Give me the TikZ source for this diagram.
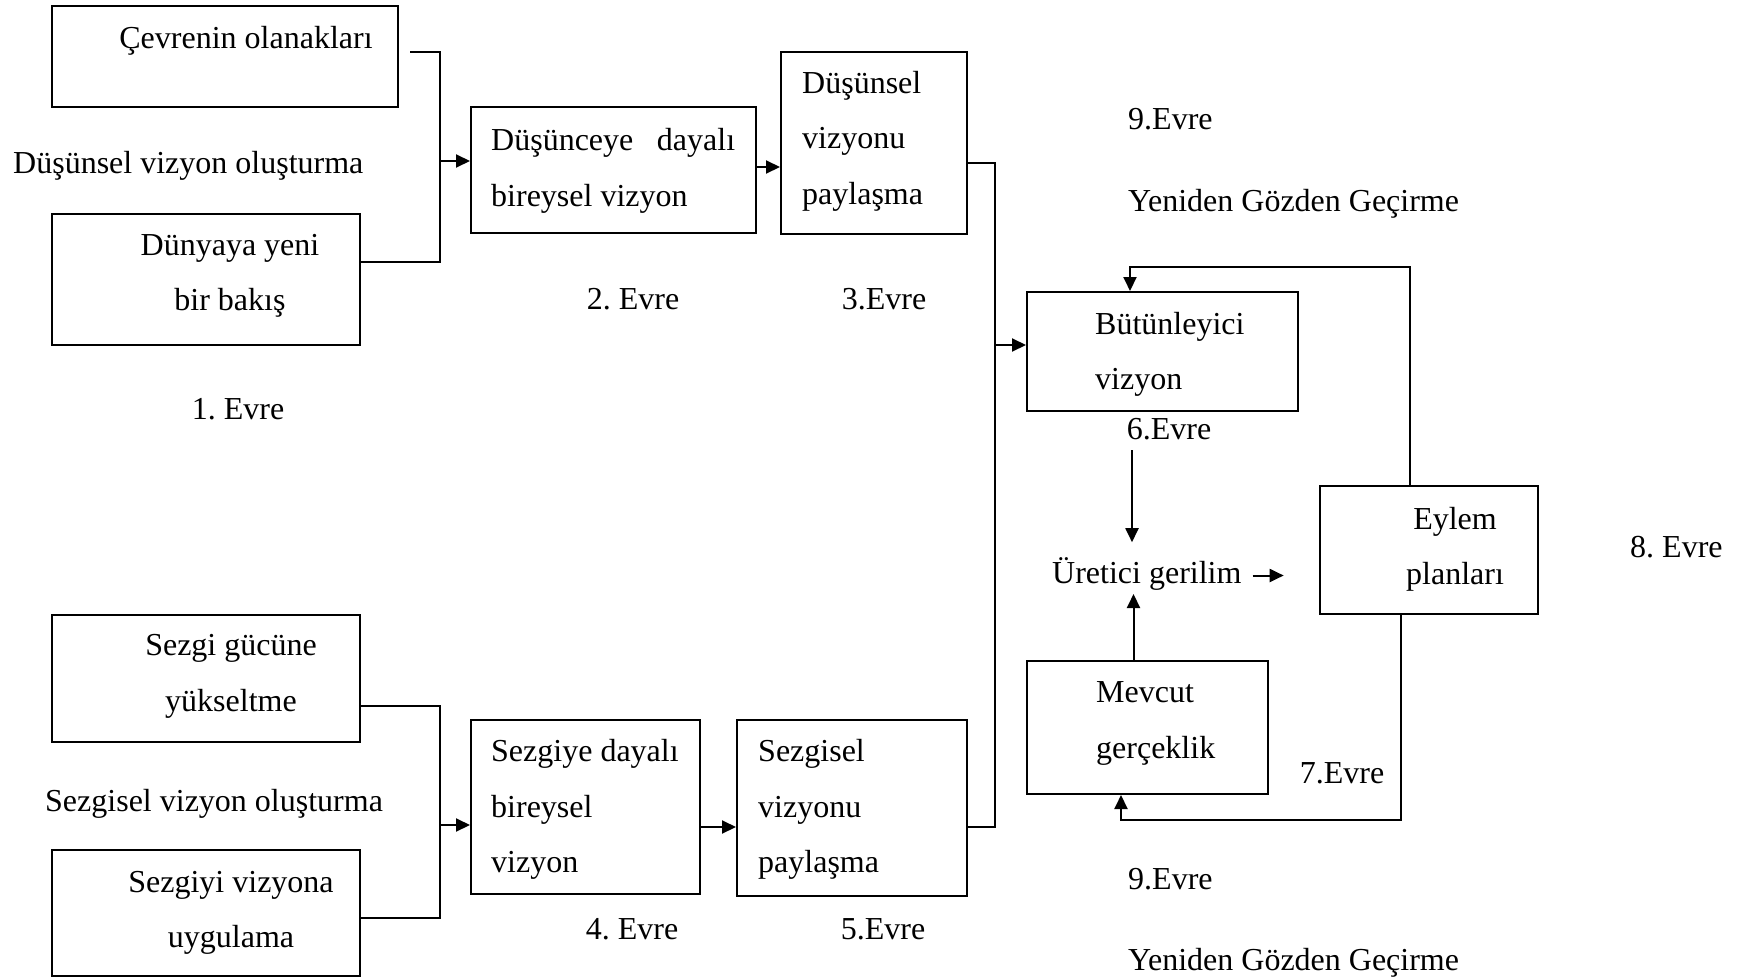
\documentclass[tikz,border=0pt]{standalone}
\usepackage{fontspec}
\setmainfont{Liberation Serif}
\usetikzlibrary{arrows.meta,calc}
\frenchspacing
\begin{document}
\begin{tikzpicture}[x=1pt,y=-1pt,
  font=\fontsize{32}{55.4}\selectfont,
  box/.style={draw, line width=2pt, inner sep=0pt, rectangle},
  txt/.style={inner sep=0pt, align=left, anchor=west, yshift=-3.5pt},
  ctxt/.style={inner sep=0pt, align=center, yshift=-3.5pt},
  lbl/.style={inner sep=0pt, text height=23pt, text depth=7pt, yshift=-3.5pt},
  ln/.style={line width=2pt},
  arr/.style={line width=2pt, -{Triangle[length=14pt,width=13pt]}}]
\useasboundingbox (0,0) rectangle (1737,979);

% boxes
\node[box, minimum width=346pt, minimum height=101pt] (cev) at (225,56.5) {};
\node[box, minimum width=308pt, minimum height=131pt] (dun) at (206,279.5) {};
\node[box, minimum width=285pt, minimum height=126pt] (dus) at (613.5,170) {};
\node[box, minimum width=186pt, minimum height=182pt] (dpay) at (874,143) {};
\node[box, minimum width=271pt, minimum height=119pt] (but) at (1162.5,351.5) {};
\node[box, minimum width=218pt, minimum height=128pt] (eyl) at (1429,550) {};
\node[box, minimum width=241pt, minimum height=133pt] (mev) at (1147.5,727.5) {};
\node[box, minimum width=308pt, minimum height=127pt] (sg) at (206,678.5) {};
\node[box, minimum width=308pt, minimum height=126pt] (sv) at (206,913) {};
\node[box, minimum width=229pt, minimum height=174pt] (sd) at (585.5,807) {};
\node[box, minimum width=230pt, minimum height=176pt] (spay) at (852,808) {};

% box texts
\node[lbl, anchor=center] (cevt) at (246,37) {Çevrenin olanakları};
\node[ctxt] (dunt) at (230,272.5) {Dünyaya yeni\\bir bakış};
\node[txt] (dust) at (491,167.5) {\makebox[244pt][s]{Düşünceye dayalı}\\bireysel vizyon};
\node[txt] (dpayt) at (802,137.5) {Düşünsel\\vizyonu\\paylaşma};
\node[txt] (butt) at (1095,351) {Bütünleyici\\vizyon};
\node[ctxt] (eylt) at (1455,545.5) {Eylem\\planları};
\node[txt] (mevt) at (1096,720) {Mevcut\\gerçeklik};
\node[ctxt] (sgt) at (231,673) {Sezgi gücüne\\yükseltme};
\node[ctxt] (svt) at (231,909.5) {Sezgiyi vizyona\\uygulama};
\node[txt] (sdt) at (491,806) {Sezgiye dayalı\\bireysel\\vizyon};
\node[txt] (spayt) at (758,806) {Sezgisel\\vizyonu\\paylaşma};

% free labels
\node[lbl, anchor=west] (l1) at (13,162) {Düşünsel vizyon oluşturma};
\node[lbl, anchor=west] (l2) at (45,800) {Sezgisel vizyon oluşturma};
\node[lbl] (ev1) at (238,408) {1. Evre};
\node[lbl] (ev2) at (633,298) {2. Evre};
\node[lbl] (ev3) at (884,298) {3.Evre};
\node[lbl] (ev4) at (632,928) {4. Evre};
\node[lbl] (ev5) at (883,928) {5.Evre};
\node[lbl] (ev6) at (1169,428) {6.Evre};
\node[lbl] (ev7) at (1342,772) {7.Evre};
\node[lbl, anchor=west] (ev8) at (1630,546) {8. Evre};
\node[lbl, anchor=west] (ev9a) at (1128,118) {9.Evre};
\node[lbl, anchor=west] (yg1) at (1128,200) {Yeniden Gözden Geçirme};
\node[lbl, anchor=west] (ev9b) at (1128,878) {9.Evre};
\node[lbl, anchor=west] (yg2) at (1128,959) {Yeniden Gözden Geçirme};
\node[lbl, anchor=west] (ur) at (1052,572) {Üretici gerilim};

% junctions
\coordinate (busA) at (440,161);
\coordinate (busB) at (995,345);
\coordinate (busC) at (440,825);

% upper left group
\draw[ln] ([shift={(11,-4.5)}]cev.east) -| ([yshift=17.5pt]dun.east -| busA) -- ([yshift=17.5pt]dun.east);
\draw[arr] (busA) -- (busA -| dus.west);
\draw[arr] ([yshift=3pt]dus.east) coordinate (t1) -- (t1 -| dpay.west);

% lower left group
\draw[ln] ([yshift=-27.5pt]sg.east) -| (busC);
\draw[ln] ([yshift=-5pt]sv.east) -| (busC);
\draw[arr] (busC) -- (busC -| sd.west);
\draw[arr] ([yshift=-20pt]sd.east) coordinate (t2) -- (t2 -| spay.west);

% to integrative vision
\draw[ln] ([yshift=-20pt]dpay.east) -| (busB);
\draw[ln] ([yshift=-19pt]spay.east) -| (busB);
\draw[arr] (busB) -- (busB -| but.west);

% right cycle
\draw[arr] ([xshift=-19pt]eyl.north) -- ++(0,-218) -| ([xshift=-32.5pt]but.north);
\draw[arr] ([xshift=-28pt]eyl.south) -- ++(0,205) -| ([xshift=-26.5pt]mev.south);
\draw[arr] ([xshift=-37pt,yshift=-3.5pt]ev6.south) -- ++(0,92);
\draw[arr] ([xshift=-14pt]mev.north) -- ++(0,-66);
\draw[arr] ([shift={(11,0)}]ur.east) -- ++(31,0);
\end{tikzpicture}
\end{document}
